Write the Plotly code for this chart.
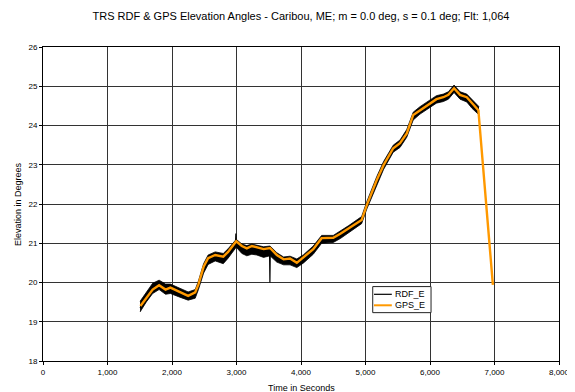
import plotly.graph_objects as go

# GPS elevation (seconds, degrees)
gps_t = [1510, 1600, 1700, 1800, 1900, 1975, 2100, 2250, 2360, 2410, 2490, 2560, 2670,
         2795, 2870, 2996, 3083, 3160, 3238, 3315, 3420, 3520, 3625, 3730, 3830, 3935,
         4040, 4190, 4320, 4500, 4610, 4740, 4940, 5020, 5175, 5280, 5430, 5535, 5640,
         5740, 5845, 6000, 6100, 6207, 6285, 6373, 6466, 6570, 6650, 6750, 6975]
gps_e = [19.40, 19.60, 19.82, 19.93, 19.82, 19.87, 19.78, 19.66, 19.75, 19.95, 20.40,
         20.62, 20.70, 20.66, 20.78, 21.05, 20.93, 20.87, 20.93, 20.89, 20.85, 20.88,
         20.70, 20.59, 20.61, 20.50, 20.64, 20.85, 21.13, 21.14, 21.24, 21.38, 21.59,
         21.97, 22.61, 22.99, 23.42, 23.55, 23.80, 24.27, 24.39, 24.57, 24.67, 24.72,
         24.78, 24.95, 24.78, 24.72, 24.58, 24.39, 19.94]

# RDF elevation (seconds, degrees): central trace incl. the two visible spikes
rdf_t = [1505, 1600, 1700, 1800, 1900, 1975, 2100, 2250, 2360, 2410, 2490, 2560, 2670,
         2795, 2870, 2985, 2990, 2996, 3083, 3160, 3238, 3315, 3420, 3512, 3518, 3524,
         3625, 3730, 3830, 3935, 4040, 4190, 4320, 4500, 4610, 4740, 4940, 5020, 5175,
         5280, 5430, 5535, 5640, 5740, 5845, 6000, 6100, 6207, 6285, 6373, 6466, 6570,
         6650, 6760]
rdf_e = [19.35, 19.62, 19.86, 19.96, 19.84, 19.87, 19.76, 19.66, 19.72, 19.95, 20.40,
         20.60, 20.70, 20.64, 20.78, 21.02, 21.25, 21.04, 20.90, 20.84, 20.88, 20.86,
         20.80, 20.84, 20.00, 20.84, 20.66, 20.56, 20.58, 20.50, 20.62, 20.84, 21.12,
         21.12, 21.23, 21.37, 21.58, 21.96, 22.60, 22.98, 23.42, 23.55, 23.80, 24.26,
         24.40, 24.57, 24.67, 24.72, 24.78, 24.96, 24.78, 24.70, 24.56, 24.36]

# RDF scatter envelope (lower / upper edge of the black noise band)
env_t = [1505, 1600, 1700, 1800, 1900, 1975, 2100, 2250, 2360, 2410, 2490, 2560, 2670,
         2795, 2870, 2996, 3083, 3160, 3238, 3315, 3420, 3520, 3625, 3730, 3830, 3935,
         4040, 4190, 4320, 4500, 4610, 4740, 4940, 5020, 5175, 5280, 5430, 5535, 5640,
         5740, 5845, 6000, 6100, 6207, 6285, 6373, 6466, 6570, 6650, 6760]
env_lo = [19.25, 19.50, 19.72, 19.82, 19.70, 19.72, 19.64, 19.55, 19.60, 19.82, 20.24,
          20.46, 20.55, 20.48, 20.62, 20.90, 20.74, 20.68, 20.72, 20.70, 20.64, 20.68,
          20.52, 20.45, 20.45, 20.38, 20.50, 20.72, 21.00, 21.02, 21.12, 21.27, 21.50,
          21.87, 22.50, 22.88, 23.32, 23.44, 23.70, 24.14, 24.29, 24.47, 24.57, 24.61,
          24.67, 24.84, 24.67, 24.60, 24.44, 24.27]
env_hi = [19.52, 19.74, 19.98, 20.06, 19.96, 19.96, 19.86, 19.76, 19.82, 20.04, 20.48,
          20.70, 20.78, 20.74, 20.86, 21.10, 20.98, 20.94, 20.98, 20.95, 20.91, 20.93,
          20.76, 20.65, 20.67, 20.60, 20.71, 20.93, 21.20, 21.20, 21.31, 21.45, 21.68,
          22.06, 22.70, 23.08, 23.50, 23.63, 23.90, 24.34, 24.48, 24.66, 24.76, 24.80,
          24.86, 25.03, 24.86, 24.80, 24.66, 24.48]

x_ticks = [0, 1000, 2000, 3000, 4000, 5000, 6000, 7000, 8000]
y_ticks = [18, 19, 20, 21, 22, 23, 24, 25, 26]
legend_names = ["RDF_E", "GPS_E"]

FONT = "Arial, Liberation Sans, sans-serif"
GRID = "#333333"
ORANGE = "#FF9900"

fig = go.Figure()
fig.add_trace(go.Scatter(x=env_t, y=env_lo, mode="lines", showlegend=False,
                         hoverinfo="skip", line=dict(color="black", width=0.8)))
fig.add_trace(go.Scatter(x=env_t, y=env_hi, mode="lines", showlegend=False,
                         hoverinfo="skip", fill="tonexty", fillcolor="black",
                         line=dict(color="black", width=0.8)))
fig.add_trace(go.Scatter(x=rdf_t, y=rdf_e, mode="lines", name=legend_names[0],
                         showlegend=False, line=dict(color="black", width=1.2)))
fig.add_trace(go.Scatter(x=gps_t, y=gps_e, mode="lines", name=legend_names[1],
                         showlegend=False, line=dict(color=ORANGE, width=2.4)))

# compact legend box (Excel-style), in plot-area paper coordinates
lx0, lx1, ly0, ly1 = 0.639, 0.752, 0.154, 0.237
sx0, sx1, tx = 0.6415, 0.676, 0.679
rows = [(0.2124, "black", 1.2), (0.1774, ORANGE, 2.0)]
shapes = [dict(type="rect", xref="paper", yref="paper", x0=lx0, x1=lx1, y0=ly0, y1=ly1,
               line=dict(color="#222", width=1), fillcolor="white", layer="above")]
annotations = []
for (yy, col, w), name in zip(rows, legend_names):
    shapes.append(dict(type="line", xref="paper", yref="paper", x0=sx0, x1=sx1,
                       y0=yy, y1=yy, line=dict(color=col, width=w), layer="above"))
    annotations.append(dict(text=name, xref="paper", yref="paper", x=tx, y=yy,
                            xanchor="left", yanchor="middle", showarrow=False,
                            font=dict(family=FONT, size=9, color="black")))

annotations += [
    dict(text="Time in Seconds", xref="paper", yref="paper", x=0.5, y=0,
         xanchor="center", yanchor="middle", yshift=-27, showarrow=False,
         font=dict(family=FONT, size=9)),
    dict(text="Elevation in Degrees", xref="paper", yref="paper", x=0, y=0.5,
         xanchor="center", yanchor="middle", xshift=-25, textangle=-90,
         showarrow=False, font=dict(family=FONT, size=9)),
]

# page body adds an 8px offset, so the figure is laid out in 567x384
fig.update_layout(
    width=567, height=384,
    margin=dict(l=35, r=16, t=39, b=31, autoexpand=False),
    paper_bgcolor="white", plot_bgcolor="white",
    font=dict(family=FONT, size=8, color="black"),
    title=dict(text="TRS RDF & GPS Elevation Angles - Caribou, ME; m = 0.0 deg, s = 0.1 deg; Flt: 1,064",
               x=0.5, xref="paper", xanchor="center", y=1 - 8.5 / 384, yanchor="middle",
               automargin=False,
               font=dict(family=FONT, size=11, color="black")),
    showlegend=False,
    shapes=shapes,
    annotations=annotations,
)
fig.update_xaxes(range=[0, 8000], tickvals=x_ticks, tickformat=",", ticks="outside",
                 ticklen=3, tickcolor="black", automargin=False,
                 showgrid=True, gridcolor=GRID, gridwidth=1,
                 showline=True, linecolor="black", linewidth=1, mirror=True,
                 zeroline=False, tickfont=dict(size=8))
fig.update_yaxes(range=[18, 26], tickvals=y_ticks, ticks="outside", ticklen=3,
                 tickcolor="black", automargin=False,
                 showgrid=True, gridcolor=GRID, gridwidth=1,
                 showline=True, linecolor="black", linewidth=1, mirror=True,
                 zeroline=False, tickfont=dict(size=8))

fig.write_html("out.html")
